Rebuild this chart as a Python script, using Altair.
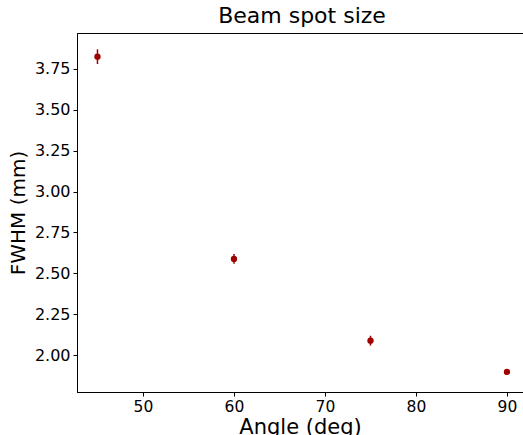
import altair as alt
import pandas as pd

angles = [45, 60, 75, 90]
fwhm = [3.825, 2.588, 2.088, 1.897]
fwhm_err = [0.045, 0.03, 0.03, 0.01]

df = pd.DataFrame({
    "angle": angles,
    "fwhm": fwhm,
    "lo": [v - e for v, e in zip(fwhm, fwhm_err)],
    "hi": [v + e for v, e in zip(fwhm, fwhm_err)],
})

color = "#a00000"
font = "DejaVu Sans"

x = alt.X("angle:Q", scale=alt.Scale(domain=[42.75, 91.76], nice=False, zero=False),
          axis=alt.Axis(title="Angle (deg)", values=[50, 60, 70, 80, 90], format="d",
                        grid=False, tickColor="black", domainColor="black", tickSize=4,
                        labelFontSize=15.5, titleFontSize=21, labelFont=font, titleFont=font,
                        labelColor="black", titleColor="black", titleFontWeight="normal",
                        labelPadding=3, titlePadding=2))
y_axis = alt.Axis(title="FWHM (mm)", values=[2.0, 2.25, 2.5, 2.75, 3.0, 3.25, 3.5, 3.75],
                  format=".2f", grid=False, tickColor="black", domainColor="black", tickSize=4,
                  labelFontSize=16, titleFontSize=20, labelFont=font, titleFont=font,
                  labelColor="black", titleColor="black", titleFontWeight="normal",
                  labelPadding=3, titlePadding=6)
yscale = alt.Scale(domain=[1.774, 3.97], nice=False, zero=False)

base = alt.Chart(df)
err = base.mark_rule(color=color, strokeWidth=1.5).encode(
    x=x, y=alt.Y("lo:Q", scale=yscale, axis=y_axis), y2="hi:Q")
pts = base.mark_circle(color=color, size=40, opacity=1).encode(
    x="angle:Q", y=alt.Y("fwhm:Q", scale=yscale))

chart = (err + pts).properties(
    width=446, height=359,
    title=alt.TitleParams("Beam spot size", fontSize=22, font=font, fontWeight="normal",
                          color="black", offset=5, anchor="middle", dx=2),
    autosize=alt.AutoSizeParams(type="none"),
    padding={"left": 77, "top": 33, "right": 0, "bottom": 43},
).configure_view(stroke="black", strokeWidth=1)

chart.save("out.html", embed_options={"renderer": "svg", "actions": False})
